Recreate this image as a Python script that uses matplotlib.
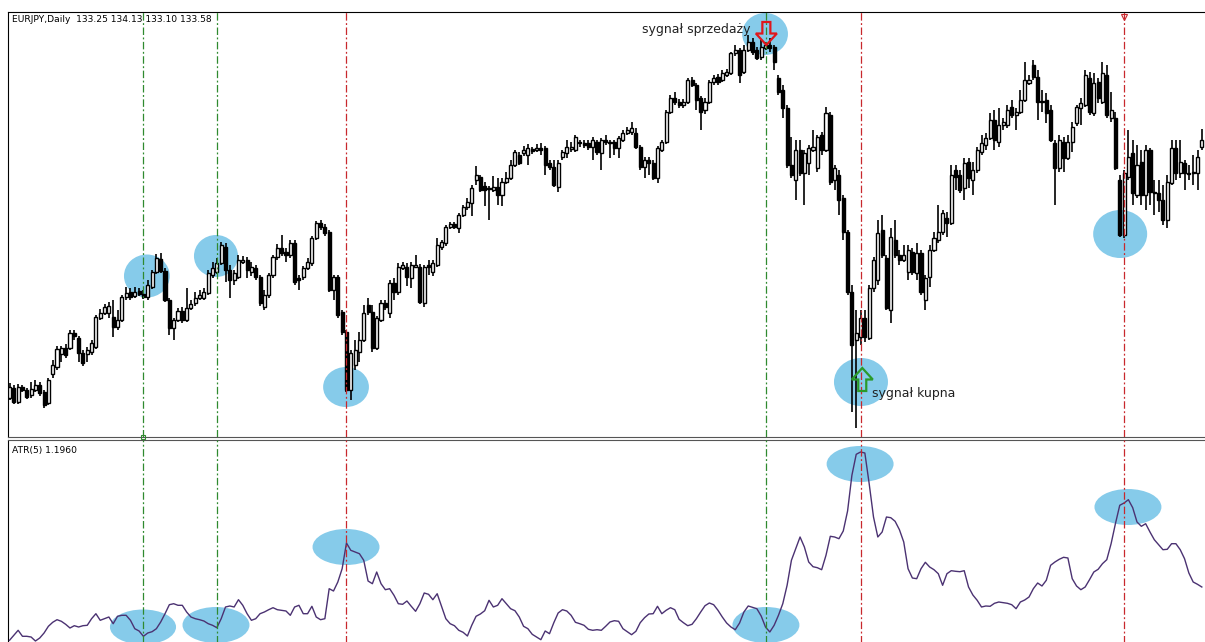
import numpy as np
import matplotlib
matplotlib.use("Agg")
import matplotlib.pyplot as plt
from matplotlib.patches import Ellipse, Polygon

## Data (EURJPY daily, ATR(5))
opens = [
    120.70, 121.20, 120.50, 121.25, 121.10, 120.85, 121.10, 121.35, 121.00, 120.45,
    121.90, 122.25, 122.90, 123.20, 123.20, 123.95, 123.70, 122.95, 122.90, 123.00,
    123.25, 124.70, 124.95, 124.95, 124.75, 124.25, 124.60, 125.75, 126.00, 125.80,
    126.05, 125.90, 125.75, 126.25, 127.00, 127.65, 127.05, 125.60, 124.20, 124.60,
    125.05, 124.60, 125.20, 125.45, 125.70, 125.70, 125.95, 126.85, 127.00, 127.45,
    128.25, 127.10, 126.60, 126.75, 127.50, 127.60, 127.00, 127.20, 126.75, 125.25,
    125.85, 126.85, 127.75, 128.20, 128.00, 127.85, 128.45, 126.70, 126.75, 127.20,
    127.45, 128.70, 129.45, 129.25, 129.00, 126.10, 126.75, 125.00, 124.00, 121.10,
    122.35, 123.00, 123.60, 125.35, 125.00, 123.20, 124.60, 125.45, 124.95, 126.45,
    126.00, 127.20, 127.25, 126.70, 127.25, 127.25, 125.45, 127.35, 127.00, 127.35,
    128.25, 128.45, 129.25, 129.40, 129.20, 129.85, 130.25, 130.45, 131.60, 131.75,
    131.30, 131.20, 131.10, 131.25, 130.85, 131.50, 131.70, 132.35, 132.85, 132.95,
    132.85, 133.15, 133.10, 133.20, 133.20, 132.45, 132.25, 131.25, 132.75, 132.95,
    133.15, 133.10, 133.50, 133.45, 133.45, 133.25, 133.50, 132.95, 133.60, 133.50,
    133.50, 133.20, 133.60, 133.95, 134.00, 133.95, 133.25, 132.25, 132.60, 132.45,
    131.70, 133.10, 133.50, 135.00, 135.70, 135.50, 135.35, 135.50, 136.60, 136.35,
    135.70, 135.10, 135.50, 136.50, 136.75, 136.60, 136.85, 136.95, 137.95, 138.10,
    137.00, 138.10, 138.50, 138.10, 137.75, 138.20, 138.35, 138.25, 136.70, 136.10,
    135.20, 132.35, 131.60, 133.10, 131.95, 132.45, 133.10, 132.20, 133.85, 133.10,
    134.85, 131.60, 131.85, 130.70, 129.00, 126.00, 123.60, 123.75, 124.70, 123.70,
    126.20, 126.60, 129.10, 127.70, 125.10, 128.60, 127.85, 127.60, 127.00, 128.00,
    126.95, 127.95, 125.60, 126.75, 128.10, 128.60, 129.00, 129.70, 129.45, 132.10,
    131.85, 131.20, 132.50, 131.60, 132.10, 133.00, 133.35, 133.70, 134.60, 133.50,
    134.35, 134.35, 135.25, 134.85, 135.00, 135.60, 136.45, 137.35, 136.75, 135.55,
    135.60, 135.10, 133.45, 132.20, 133.50, 132.70, 133.50, 134.45, 135.20, 135.35,
    136.70, 134.95, 136.50, 135.50, 136.85, 134.70, 134.70, 131.60, 128.85, 131.75,
    132.95, 130.85, 132.50, 130.85, 133.10, 131.00, 130.95, 130.60, 129.60, 131.45,
    133.20, 131.95, 132.45, 131.95, 131.95, 131.95, 133.25]
highs = [
    121.45, 121.35, 121.40, 121.35, 121.20, 121.50, 121.60, 121.50, 121.10, 121.70,
    122.60, 123.30, 123.30, 123.40, 124.10, 124.10, 123.80, 123.10, 123.25, 123.60,
    124.85, 125.15, 125.40, 125.50, 125.60, 125.10, 125.85, 126.25, 126.20, 126.25,
    126.20, 126.10, 126.60, 127.10, 127.90, 127.95, 127.20, 125.70, 124.70, 125.20,
    125.25, 126.20, 125.60, 126.00, 126.10, 126.20, 127.10, 127.50, 127.70, 128.50,
    128.45, 127.35, 127.10, 127.85, 127.80, 127.75, 127.50, 127.35, 126.85, 126.10,
    126.95, 127.85, 128.40, 128.85, 128.20, 128.60, 128.60, 126.85, 127.30, 127.70,
    128.80, 129.55, 129.60, 129.40, 129.10, 126.85, 126.85, 125.10, 124.10, 123.10,
    123.60, 124.00, 125.35, 125.70, 125.35, 124.80, 125.60, 125.60, 126.60, 126.70,
    127.45, 127.50, 127.45, 127.50, 127.85, 127.40, 127.35, 127.60, 127.60, 128.70,
    128.60, 129.35, 129.50, 129.50, 129.95, 130.35, 130.70, 131.35, 132.30, 131.85,
    131.50, 131.30, 131.80, 131.70, 131.70, 132.00, 132.60, 133.10, 133.00, 133.30,
    133.40, 133.25, 133.40, 133.45, 133.30, 132.60, 132.60, 132.60, 133.10, 133.60,
    133.50, 133.85, 133.60, 133.60, 133.60, 133.75, 133.60, 133.70, 133.85, 133.60,
    133.60, 133.80, 134.10, 134.25, 134.50, 134.20, 133.35, 132.75, 132.75, 132.60,
    133.30, 133.60, 135.10, 135.85, 136.00, 135.65, 135.65, 136.70, 136.75, 136.45,
    135.80, 135.70, 136.60, 136.85, 136.90, 137.10, 137.15, 138.00, 138.35, 138.20,
    138.35, 138.85, 138.70, 138.25, 138.60, 138.50, 138.70, 138.35, 136.85, 136.35,
    135.35, 133.75, 133.60, 133.60, 133.10, 133.35, 134.10, 133.85, 134.00, 135.25,
    135.00, 132.35, 132.10, 130.85, 129.10, 126.35, 125.10, 125.10, 125.10, 126.35,
    127.75, 129.60, 129.85, 127.85, 129.20, 129.60, 128.10, 128.35, 128.35, 128.20,
    128.45, 128.10, 126.85, 128.35, 129.00, 130.35, 130.10, 130.00, 132.35, 132.35,
    132.10, 132.70, 132.70, 132.50, 133.25, 133.85, 133.95, 134.95, 135.10, 135.20,
    134.70, 135.35, 135.60, 135.20, 136.10, 137.50, 136.85, 137.60, 137.10, 136.10,
    135.95, 135.35, 133.60, 133.85, 133.75, 133.85, 134.50, 135.35, 135.70, 137.10,
    137.00, 136.95, 136.70, 137.50, 137.35, 136.00, 135.00, 131.85, 132.10, 134.10,
    133.60, 133.35, 133.10, 133.35, 133.20, 131.60, 131.60, 131.35, 131.85, 133.60,
    133.60, 133.60, 132.60, 132.35, 132.85, 133.10, 134.13]
lows = [
    120.60, 120.40, 120.40, 121.00, 120.65, 120.70, 121.00, 120.80, 120.20, 120.35,
    121.70, 122.10, 122.50, 122.70, 123.10, 123.60, 122.50, 122.30, 122.50, 122.85,
    123.15, 124.60, 124.85, 124.70, 123.75, 124.10, 124.50, 125.60, 125.60, 125.70,
    125.80, 125.65, 125.60, 126.15, 126.90, 126.95, 125.50, 123.85, 123.60, 124.50,
    124.45, 124.50, 125.10, 125.30, 125.60, 125.60, 125.85, 126.70, 126.90, 127.35,
    126.50, 125.70, 126.35, 126.65, 127.40, 126.70, 126.80, 126.60, 125.30, 125.10,
    125.70, 126.70, 127.60, 127.80, 127.50, 127.70, 126.35, 126.10, 126.60, 127.10,
    127.30, 128.60, 129.10, 128.80, 126.00, 125.60, 124.70, 123.85, 121.00, 120.60,
    122.10, 122.50, 123.50, 124.85, 123.00, 123.10, 124.50, 125.10, 124.70, 125.60,
    125.85, 127.10, 126.30, 126.20, 127.20, 125.40, 125.25, 126.85, 126.80, 127.25,
    128.10, 128.30, 129.15, 129.15, 128.95, 129.75, 130.10, 129.80, 131.35, 131.00,
    130.30, 129.60, 131.00, 130.35, 130.30, 131.40, 131.60, 132.25, 132.35, 132.80,
    132.35, 132.90, 133.00, 132.85, 131.85, 132.10, 131.25, 131.00, 132.60, 132.70,
    133.00, 133.00, 133.25, 133.20, 133.10, 132.60, 132.85, 132.10, 133.35, 132.70,
    132.85, 132.70, 133.50, 133.85, 133.85, 133.15, 132.10, 131.70, 131.85, 131.60,
    131.45, 133.00, 133.40, 134.90, 135.35, 135.20, 135.20, 135.40, 136.25, 135.10,
    134.10, 134.90, 135.40, 136.35, 136.35, 136.50, 136.75, 136.85, 137.80, 136.45,
    136.90, 138.00, 137.85, 137.60, 137.60, 138.10, 138.00, 137.10, 135.85, 134.70,
    132.20, 131.70, 130.60, 131.80, 130.35, 131.85, 133.00, 132.00, 132.85, 133.00,
    131.35, 131.10, 129.85, 128.60, 125.85, 120.00, 119.20, 123.35, 123.50, 123.60,
    126.00, 126.35, 127.70, 125.10, 124.45, 127.70, 127.35, 127.50, 126.60, 126.85,
    126.60, 125.85, 125.10, 126.25, 128.00, 128.45, 128.85, 128.75, 129.35, 131.10,
    130.95, 130.60, 131.20, 130.85, 131.95, 132.85, 133.10, 133.60, 133.10, 133.25,
    134.10, 134.20, 134.70, 134.10, 134.90, 135.50, 136.35, 136.60, 134.60, 135.00,
    134.45, 133.50, 130.35, 132.00, 132.00, 132.60, 133.00, 134.30, 134.35, 135.25,
    134.85, 134.80, 135.45, 135.40, 134.70, 134.50, 132.10, 128.75, 128.70, 131.60,
    130.35, 130.70, 130.35, 130.10, 130.35, 129.85, 130.00, 129.35, 129.20, 131.35,
    131.60, 131.70, 131.10, 131.60, 131.35, 131.10, 133.10]
closes = [
    121.25, 120.50, 121.25, 121.10, 120.75, 121.15, 121.35, 120.95, 120.35, 121.60,
    122.35, 123.15, 123.20, 122.85, 123.95, 123.80, 122.95, 122.45, 123.10, 123.45,
    124.75, 124.95, 125.25, 125.30, 124.25, 124.60, 125.75, 125.95, 125.75, 126.00,
    125.90, 125.75, 126.35, 127.00, 127.70, 127.05, 125.60, 124.20, 124.60, 125.05,
    124.60, 125.20, 125.40, 125.70, 125.85, 126.00, 126.95, 127.20, 127.45, 128.35,
    127.10, 126.60, 126.95, 127.60, 127.60, 127.10, 127.25, 126.75, 125.45, 125.85,
    126.85, 127.75, 128.20, 127.95, 127.85, 128.45, 126.50, 126.60, 127.20, 127.50,
    128.70, 129.45, 129.25, 128.95, 126.10, 126.75, 124.85, 124.00, 121.10, 122.95,
    123.10, 123.60, 124.95, 125.00, 123.20, 124.70, 125.45, 125.25, 126.45, 126.00,
    127.25, 127.35, 126.75, 127.35, 127.35, 125.50, 127.25, 127.25, 127.45, 128.35,
    128.50, 129.25, 129.40, 129.25, 129.85, 130.25, 130.50, 131.20, 131.85, 131.10,
    131.10, 131.15, 131.25, 130.85, 131.50, 131.70, 132.35, 133.00, 132.45, 133.10,
    133.20, 133.05, 133.20, 133.10, 132.35, 132.25, 131.35, 132.45, 133.00, 133.25,
    133.25, 133.75, 133.45, 133.35, 133.25, 133.60, 133.00, 133.60, 133.50, 133.45,
    133.20, 133.70, 133.95, 134.10, 134.20, 133.25, 132.25, 132.60, 132.45, 131.70,
    133.20, 133.50, 135.00, 135.70, 135.50, 135.35, 135.50, 136.60, 136.35, 135.60,
    135.00, 135.50, 136.50, 136.70, 136.50, 136.95, 137.00, 137.95, 138.10, 136.85,
    138.10, 138.50, 138.00, 137.70, 138.25, 138.35, 138.20, 137.50, 136.00, 135.20,
    132.35, 131.85, 133.10, 131.95, 132.95, 133.20, 133.25, 133.75, 133.10, 134.95,
    131.50, 132.20, 130.60, 129.00, 126.00, 123.35, 123.95, 124.70, 123.75, 126.20,
    127.60, 128.95, 127.85, 125.20, 128.75, 127.85, 127.60, 127.85, 128.10, 127.00,
    127.95, 126.00, 126.70, 128.10, 128.70, 129.00, 129.95, 129.45, 131.85, 131.75,
    131.10, 132.45, 131.70, 132.10, 133.10, 133.45, 133.70, 134.60, 133.60, 134.35,
    134.50, 135.10, 134.85, 135.00, 135.60, 136.60, 136.60, 136.75, 135.50, 135.50,
    134.95, 133.60, 132.20, 133.60, 132.70, 133.50, 134.25, 135.25, 135.45, 136.85,
    135.00, 136.45, 135.70, 136.95, 134.85, 135.10, 132.20, 128.85, 131.95, 132.75,
    130.95, 132.35, 130.85, 133.10, 131.00, 130.95, 130.60, 129.60, 131.50, 133.20,
    131.95, 132.50, 131.95, 131.90, 132.00, 132.75, 133.58]
atr = [
    0.663, 0.713, 0.763, 0.703, 0.703, 0.696, 0.656, 0.686, 0.736, 0.803,
    0.843, 0.869, 0.853, 0.823, 0.786, 0.809, 0.796, 0.809, 0.813, 0.879,
    0.929, 0.863, 0.879, 0.896, 0.829, 0.903, 0.913, 0.913, 0.863, 0.779,
    0.756, 0.703, 0.736, 0.749, 0.779, 0.846, 0.929, 1.019, 1.029, 1.013,
    1.013, 0.946, 0.896, 0.879, 0.869, 0.856, 0.829, 0.813, 0.789, 0.879,
    0.996, 1.006, 0.996, 1.069, 1.013, 0.929, 0.863, 0.879, 0.929, 0.946,
    0.969, 0.989, 0.969, 0.963, 0.956, 0.913, 0.996, 1.013, 0.929, 0.929,
    1.003, 0.896, 0.869, 0.879, 1.179, 1.156, 1.246, 1.379, 1.636, 1.563,
    1.546, 1.529, 1.463, 1.256, 1.229, 1.346, 1.229, 1.169, 1.179, 1.113,
    1.029, 1.023, 1.056, 1.003, 0.953, 1.029, 1.136, 1.123, 1.069, 1.129,
    1.003, 0.879, 0.829, 0.809, 0.763, 0.743, 0.706, 0.813, 0.903, 0.926,
    0.959, 1.063, 0.996, 1.013, 1.079, 1.029, 0.979, 0.959, 0.896, 0.803,
    0.779, 0.723, 0.696, 0.669, 0.756, 0.729, 0.839, 0.936, 0.969, 0.956,
    0.913, 0.843, 0.829, 0.813, 0.773, 0.763, 0.769, 0.763, 0.803, 0.846,
    0.859, 0.853, 0.779, 0.749, 0.719, 0.753, 0.839, 0.889, 0.926, 0.929,
    1.003, 0.929, 0.963, 0.989, 0.969, 0.873, 0.839, 0.809, 0.823, 0.879,
    0.946, 1.009, 1.036, 1.019, 0.963, 0.896, 0.836, 0.796, 0.769, 0.836,
    0.946, 1.006, 0.993, 0.979, 0.906, 0.796, 0.746, 0.813, 0.913, 1.029,
    1.213, 1.463, 1.579, 1.696, 1.596, 1.446, 1.399, 1.389, 1.369, 1.513,
    1.703, 1.696, 1.679, 1.756, 1.956, 2.313, 2.523, 2.546, 2.536, 2.229,
    1.896, 1.696, 1.746, 1.896, 1.889, 1.853, 1.769, 1.646, 1.379, 1.286,
    1.279, 1.379, 1.443, 1.396, 1.369, 1.329, 1.213, 1.329, 1.359, 1.353,
    1.349, 1.359, 1.196, 1.116, 1.063, 0.996, 1.006, 1.003, 1.033, 1.046,
    1.039, 1.033, 1.019, 0.979, 1.046, 1.066, 1.096, 1.179, 1.236, 1.206,
    1.263, 1.413, 1.446, 1.473, 1.493, 1.486, 1.279, 1.206, 1.169, 1.196,
    1.269, 1.346, 1.373, 1.429, 1.469, 1.629, 1.829, 2.013, 2.036, 2.069,
    1.989, 1.846, 1.803, 1.829, 1.746, 1.669, 1.619, 1.569, 1.573, 1.629,
    1.629, 1.569, 1.479, 1.336, 1.246, 1.223, 1.196]

# signal bars (candle index)
green_lines = [31, 48, 175]
red_lines = [78, 197, 258]

# highlight ellipses: (bar, value, width in bars, height in value units)
price_marks = [(31.8, 126.8, 10.6, 2.15), (47.8, 127.8, 10.2, 2.1),
               (77.9, 121.25, 10.6, 2.0), (174.9, 138.9, 10.6, 2.1),
               (197.1, 121.5, 12.5, 2.4), (257.1, 128.9, 12.5, 2.4)]
atr_marks = [(30.9, 0.796, 15.3, 0.35), (47.8, 0.816, 15.5, 0.36),
             (77.9, 1.596, 15.5, 0.36), (175.1, 0.816, 15.5, 0.36),
             (196.9, 2.426, 15.5, 0.36), (258.9, 1.996, 15.5, 0.36)]

## Figure geometry (pixels)
W, H = 1205, 642
PX_PER_BAR = 4.32
X0 = 9.5
fig = plt.figure(figsize=(W / 100, H / 100), dpi=100)
fig.patch.set_facecolor('white')

def px_axes(x0, y0, x1, y1):
    return fig.add_axes([x0 / W, 1 - y1 / H, (x1 - x0) / W, (y1 - y0) / H])

ax = px_axes(8, 12, 1215, 437)
ax2 = px_axes(8, 440, 1215, 652)
xlim = ((8 - X0) / PX_PER_BAR, (1215 - X0) / PX_PER_BAR)
for a in (ax, ax2):
    a.set_xlim(*xlim)
    a.set_xticks([])
    a.set_yticks([])
    a.spines['right'].set_visible(False)
ax.set_ylim(118.75, 140.0)
ax2.set_ylim(0.546, 2.666)
ax.spines['bottom'].set_color('#555555')
ax2.spines['top'].set_color('#555555')
ax2.spines['bottom'].set_visible(False)

blue = '#86cbea'
for bx, by, bw, bh in price_marks:
    ax.add_patch(Ellipse((bx, by), bw, bh, facecolor=blue, edgecolor='none', zorder=1))
for bx, by, bw, bh in atr_marks:
    ax2.add_patch(Ellipse((bx, by), bw, bh, facecolor=blue, edgecolor='none', zorder=1))

## Candles
idx = np.arange(len(closes))
o = np.array(opens)
c = np.array(closes)
up = c >= o
ax.vlines(idx, lows, highs, color='black', lw=1.2, zorder=3)
ax.bar(idx[up], c[up] - o[up], bottom=o[up], width=0.72, color='white',
       edgecolor='black', lw=1.0, zorder=4)
ax.bar(idx[~up], c[~up] - o[~up], bottom=o[~up], width=0.72, color='black',
       edgecolor='black', lw=1.0, zorder=4)

## ATR line
ax2.plot(idx, atr, color='#4b3272', lw=1.0, zorder=3)

## Signal lines
dash = (0, (6, 2, 1.5, 2))
for a in (ax, ax2):
    for g in green_lines:
        a.axvline(g, color='#2f8a2f', lw=0.9, linestyle=dash, zorder=5)
    for r in red_lines:
        a.axvline(r, color='#c8282d', lw=0.9, linestyle=dash, zorder=5)
# small line anchors
ax.plot(green_lines[0], 118.75, marker='s', ms=3, mfc='none', mec='#2f8a2f',
        mew=0.8, clip_on=False, zorder=6)
ax.plot(red_lines[2], 139.75, marker='v', ms=4, mfc='none', mec='#c8282d',
        mew=0.8, clip_on=False, zorder=6)

## Arrows (shape in pixels, converted to data units)
def block_arrow(a, tip_x, tip_y, direction, color):
    sx = 1 / PX_PER_BAR
    sy = (a.get_ylim()[1] - a.get_ylim()[0]) / 425.0
    pts = [(0, 0), (10.5, 11.5), (4, 11.5), (4, 23), (-4, 23), (-4, 11.5), (-10.5, 11.5)]
    verts = [(tip_x + px * sx, tip_y + direction * py * sy) for px, py in pts]
    a.add_patch(Polygon(verts, closed=True, fill=False, edgecolor=color, lw=1.6, zorder=6))

block_arrow(ax, 175.2, 138.35, 1, '#e0161b')
block_arrow(ax, 197.4, 122.2, -1, '#2a9a2a')

## Labels
def fig_text(x, y, s, size, **kw):
    fig.text(x / W, 1 - y / H, s, fontsize=size, va='center', ha='left', **kw)

fig_text(12, 20, 'EURJPY,Daily  133.25 134.13 133.10 133.58', 6.6)
fig_text(12, 450, 'ATR(5) 1.1960', 6.6)
fig_text(642, 29, 'sygnał sprzedaży', 9, color='#222222')
fig_text(872, 394, 'sygnał kupna', 9, color='#222222')

plt.savefig('out.png', dpi=100)
